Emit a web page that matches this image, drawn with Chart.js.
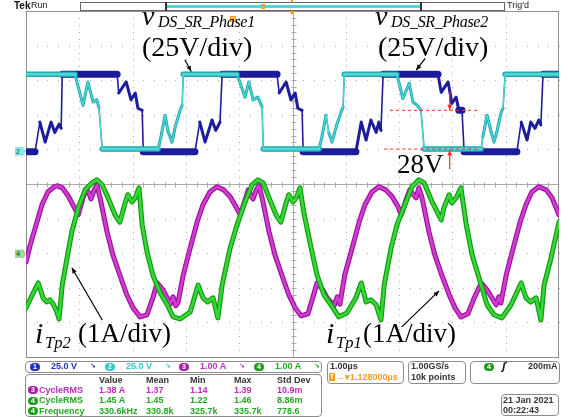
<!DOCTYPE html>
<html>
<head>
<meta charset="utf-8">
<script src="https://cdn.jsdelivr.net/npm/chart.js@4.4.1/dist/chart.umd.min.js"></script>
<style>
  html, body { margin:0; padding:0; background:#fff; }
  #scope { position:relative; width:568px; height:417px; overflow:hidden; background:#fff; }
  #scope canvas { position:absolute; left:0; top:0; }
  .abs { position:absolute; white-space:nowrap; }
  .box { position:absolute; border:1px solid #8c8c8c; border-radius:4px; box-sizing:border-box; }
</style>
</head>
<body>
<div id="scope">
  <canvas id="trace" width="568" height="417"></canvas>
</div>
<script>
/* ── scope settings: 1 µs/div, 10 div across ─────────────────────── */
const V_PER_DIV   = 25;     // ch1, ch2
const A_PER_DIV   = 1;      // ch3, ch4
const CH12_OFFSET = 0.95;   // ground marker, div above centre
const CH34_OFFSET = -2.02;  // ground marker, div below centre

/* ch1: v_DS SR phase 1 (µs, V) */
const ch1T = [0, 0.17, 0.26, 0.36, 0.47, 0.54, 0.62, 0.66, 0.68, 1.71, 1.74, 1.88, 1.97, 2.05, 2.10, 2.18, 2.20,
              3.17, 3.26, 3.36, 3.49, 3.56, 3.64, 3.68, 4.71, 4.75, 4.88, 4.97, 5.05, 5.10, 5.18, 5.20,
              6.19, 6.29, 6.38, 6.47, 6.57, 6.62, 6.66, 6.70, 7.73, 7.79, 7.92, 7.99, 8.07, 8.12, 8.18, 8.22,
              9.21, 9.29, 9.40, 9.47, 9.55, 9.62, 9.66, 9.70, 10];
const ch1V = [-0.5, -0.5, 21, 6.5, 21, 13.5, 19.5, 16.5, 55.5, 55.5, 42, 50, 37, 42, 31, 29.5, -0.5,
              -0.5, 21, 6.5, 22.5, 15, 21, 55.5, 55.5, 42, 50, 37, 42, 31, 29.5, -0.5,
              -0.5, 21, 8, 22.5, 13.5, 21, 15, 55.5, 55.5, 42.5, 50, 34.5, 39, 29.5, 29.5, -0.5,
              -0.5, 21, 8, 21, 16.5, 22.5, 19, 55.5, 55.5];

/* ch2: v_DS SR phase 2 (µs, V) */
const ch2T = [0, 0.92, 1.01, 1.07, 1.16, 1.26, 1.33, 1.37, 1.43, 2.48, 2.53, 2.61, 2.66, 2.74, 2.80, 2.89, 2.93, 2.95,
              3.96, 4.02, 4.11, 4.18, 4.26, 4.35, 4.43, 4.45, 5.50, 5.55, 5.63, 5.68, 5.74, 5.83, 5.91, 5.95, 5.97,
              6.96, 7.02, 7.07, 7.19, 7.26, 7.34, 7.41, 7.47, 8.54, 8.57, 8.65, 8.72, 8.78, 8.84, 8.91, 8.95, 8.99, 10];
const ch2V = [55.5, 55.5, 42, 33, 50, 35.5, 37, 31, 1.5, 1.5, 10, 26, 15, 6.5, 17.5, 29.5, 33, 55.5,
              55.5, 49, 39, 50, 37, 39, 32, 1.5, 1.5, 10, 26, 13.5, 6.5, 19, 28, 32, 55.5,
              55.5, 46, 38, 49, 35.5, 33, 29.5, 1.5, 1.5, 10, 26, 15, 6.5, 15, 27.5, 31, 55.5, 55.5];

/* ch3: i_Tp1 (µs, A) */
const ch3T = [0, 0.08, 0.19, 0.30, 0.41, 0.53, 0.58, 0.68, 0.79, 0.90, 0.98, 1.07, 1.13, 1.18, 1.22, 1.28, 1.33, 1.39,
              1.52, 1.63, 1.76, 1.89, 2.01, 2.14, 2.27, 2.38, 2.46, 2.57, 2.65, 2.70, 2.76, 2.81, 2.85,
              2.95, 3.08, 3.21, 3.32, 3.45, 3.58, 3.71, 3.83, 3.94, 4.02, 4.11, 4.17, 4.22, 4.26, 4.32, 4.37, 4.43,
              4.56, 4.67, 4.80, 4.93, 5.05, 5.16, 5.29, 5.38, 5.46, 5.57, 5.65, 5.72, 5.78, 5.84, 5.89,
              5.98, 6.12, 6.25, 6.36, 6.49, 6.62, 6.75, 6.87, 6.98, 7.04, 7.13, 7.20, 7.26, 7.32, 7.37, 7.43,
              7.56, 7.67, 7.80, 7.94, 8.05, 8.16, 8.29, 8.41, 8.54, 8.65, 8.74, 8.82, 8.87, 8.91,
              9.01, 9.14, 9.27, 9.38, 9.49, 9.62, 9.76, 9.87, 10];
const ch3A = [-0.23, 0.26, 0.84, 1.42, 1.79, 1.94, 1.97, 1.91, 1.68, 1.36, 1.13, 1.62, 1.88, 1.76, 1.59, 1.85, 1.99, 1.62,
              0.64, -0.03, -0.61, -1.18, -1.56, -1.82, -1.76, -1.27, -0.84, -1.04, -1.27, -1.47, -1.24, -1.50, -1.42,
              -0.61, 0.17, 0.92, 1.42, 1.79, 1.94, 1.85, 1.65, 1.36, 1.13, 1.56, 1.85, 1.68, 1.59, 1.85, 1.97, 1.62,
              0.64, -0.03, -0.61, -1.18, -1.56, -1.79, -1.73, -1.27, -0.84, -1.04, -1.27, -1.39, -1.50, -1.24, -1.45,
              -0.61, 0.17, 0.92, 1.42, 1.79, 1.94, 1.85, 1.65, 1.36, 1.13, 1.56, 1.85, 1.73, 1.62, 1.91, 1.62,
              0.64, -0.03, -0.61, -1.18, -1.56, -1.82, -1.73, -1.27, -0.84, -1.04, -1.27, -1.47, -1.24, -1.42,
              -0.61, 0.17, 0.92, 1.42, 1.79, 1.94, 1.85, 1.62, 1.13];

/* ch4: i_Tp2 (µs, A) */
const ch4T = [0, 0.11, 0.23, 0.32, 0.39, 0.45, 0.51, 0.58, 0.62, 0.68, 0.77, 0.86, 0.98, 1.11, 1.24, 1.33, 1.43, 1.54,
              1.67, 1.76, 1.86, 1.91, 1.99, 2.05, 2.12, 2.18, 2.27, 2.38, 2.51, 2.65, 2.76, 2.89, 3.08,
              3.23, 3.32, 3.41, 3.51, 3.60, 3.68, 3.83, 3.96, 4.11, 4.24, 4.35, 4.45, 4.56, 4.69, 4.78, 4.88,
              4.93, 5.01, 5.07, 5.14, 5.22, 5.35, 5.46, 5.59, 5.72, 5.87, 6.02, 6.19, 6.29, 6.38, 6.47, 6.57,
              6.66, 6.72, 6.85, 6.96, 7.13, 7.24, 7.37, 7.47, 7.62, 7.79, 7.84, 7.94, 7.99, 8.07, 8.16, 8.26,
              8.37, 8.54, 8.65, 8.78, 8.93, 9.10, 9.29, 9.38, 9.47, 9.57, 9.66, 9.72, 9.85, 10];
const ch4A = [-1.56, -1.21, -0.84, -1.27, -1.39, -1.33, -1.45, -1.68, -1.88, -0.90, -0.12, 0.64, 1.33, 1.85, 2.05, 2.14, 1.99, 1.62,
              1.13, 0.92, 1.47, 1.71, 1.50, 1.62, 1.91, 0.84, 0.06, -0.61, -1.10, -1.47, -1.82, -1.88, -1.68,
              -0.90, -1.27, -1.39, -1.27, -1.85, -0.90, 0.17, 0.84, 1.50, 1.99, 2.14, 2.05, 1.62, 1.13, 0.92, 1.47,
              1.71, 1.50, 1.62, 1.91, 1.13, 0.17, -0.61, -1.18, -1.47, -1.82, -1.71, -1.27, -0.84, -1.39, -1.33, -1.47,
              -1.91, -0.90, 0.17, 0.84, 1.50, 1.94, 2.14, 2.05, 1.50, 0.98, 1.33, 1.71, 1.47, 1.62, 1.91, 0.84,
              -0.03, -0.90, -1.47, -1.76, -1.85, -1.47, -0.84, -1.27, -1.39, -1.27, -1.91, -0.90, -0.12, 0.92];

/* readouts */
const chanNums   = ['1', '2', '3', '4'];
const chanScales = ['25.0 V', '25.0 V', '1.00 A', '1.00 A'];
const measCols   = ['Value', 'Mean', 'Min', 'Max', 'Std Dev'];
const measCh     = ['3', '4', '4'];
const measNames  = ['CycleRMS', 'CycleRMS', 'Frequency'];
const measRows   = [['1.38 A', '1.37', '1.14', '1.39', '10.9m'],
                    ['1.45 A', '1.45', '1.22', '1.46', '8.86m'],
                    ['330.6kHz', '330.8k', '325.7k', '335.7k', '778.6']];
const plateauV   = 28;   // marked SR plateau step

const COL = {
  blue: '#1c1c9c', cyan: '#4fd6d6', cyanEdge: '#18a3a8',
  mag: '#d13cd1', magEdge: '#9c119c', grn: '#35d835', grnEdge: '#129a12',
  cyanTxt: '#2fc4c8', magTxt: '#c02cc0', grnTxt: '#22a822', blueTxt: '#2233bb'
};
const chipCol = { '1': '#2233cc', '2': '#35c8cc', '3': '#a520a5', '4': '#1f9e1f' };

const pts = (t, v) => t.map((x, i) => ({ x, y: v[i] }));

// thick where the trace sits flat, thin on the fast edges
const vWidth = (flat, ramp, edge) => c => {
  const dx = Math.abs(c.p1.x - c.p0.x), dy = Math.abs(c.p1.y - c.p0.y);
  if (dy < 0.5) return flat;
  return dy > 6 * dx ? edge : ramp;
};

/* graticule: dotted divisions, solid centre cross with minor ticks */
const graticule = {
  id: 'graticule',
  beforeDatasetsDraw(chart) {
    const { ctx, chartArea: a, scales: { x, yDiv } } = chart;
    ctx.save();
    ctx.fillStyle = '#a9a9a9';
    for (let i = 1; i < 10; i++) {
      if (i === 5) continue;
      const px = Math.round(x.getPixelForValue(i));
      for (let k = 0; k <= 50; k++) ctx.fillRect(px, Math.round(yDiv.getPixelForValue(-5 + k * 0.2)), 1, 1);
    }
    for (let j = -4; j <= 4; j++) {
      if (j === 0) continue;
      const py = Math.round(yDiv.getPixelForValue(j));
      for (let k = 0; k <= 50; k++) ctx.fillRect(Math.round(x.getPixelForValue(k * 0.2)), py, 1, 1);
    }
    const cx = Math.round(x.getPixelForValue(5)) + 0.5;
    const cy = Math.round(yDiv.getPixelForValue(0)) + 0.5;
    ctx.strokeStyle = '#a9a9a9';
    ctx.lineWidth = 1;
    ctx.beginPath();
    ctx.moveTo(a.left, cy); ctx.lineTo(a.right, cy);
    ctx.moveTo(cx, a.top); ctx.lineTo(cx, a.bottom);
    for (let k = 1; k < 50; k++) {
      const px = Math.round(x.getPixelForValue(k * 0.2)) + 0.5;
      const py = Math.round(yDiv.getPixelForValue(-5 + k * 0.2)) + 0.5;
      ctx.moveTo(px, cy - 2); ctx.lineTo(px, cy + 3);
      ctx.moveTo(cx - 2, py); ctx.lineTo(cx + 3, py);
    }
    ctx.stroke();
    ctx.strokeStyle = '#8f8f8f';
    ctx.strokeRect(a.left + 0.5, a.top + 0.5, a.right - a.left - 1, a.bottom - a.top);
    ctx.restore();
  }
};

/* arrows and the 28 V marking on top of the traces */
const notes = {
  id: 'notes',
  afterDatasetsDraw(chart) {
    const { ctx, scales: { x, yV, yA } } = chart;
    const arrow = (x0, y0, x1, y1, col) => {
      const ang = Math.atan2(y1 - y0, x1 - x0);
      ctx.strokeStyle = col; ctx.fillStyle = col; ctx.lineWidth = 1.2;
      ctx.beginPath(); ctx.moveTo(x0, y0); ctx.lineTo(x1, y1); ctx.stroke();
      ctx.beginPath();
      ctx.moveTo(x1, y1);
      ctx.lineTo(x1 - 6 * Math.cos(ang - 0.4), y1 - 6 * Math.sin(ang - 0.4));
      ctx.lineTo(x1 - 6 * Math.cos(ang + 0.4), y1 - 6 * Math.sin(ang + 0.4));
      ctx.closePath(); ctx.fill();
    };
    ctx.save();
    // pointers from the labels to their traces
    arrow(x.getPixelForValue(2.98), yV.getPixelForValue(66), x.getPixelForValue(3.10), yV.getPixelForValue(57.5), '#000');
    arrow(x.getPixelForValue(7.49), yV.getPixelForValue(67), x.getPixelForValue(7.32), yV.getPixelForValue(58.5), '#000');
    arrow(x.getPixelForValue(1.43), yA.getPixelForValue(-1.91), x.getPixelForValue(0.86), yA.getPixelForValue(-0.40), '#000');
    arrow(x.getPixelForValue(7.05), yA.getPixelForValue(-2.11), x.getPixelForValue(7.75), yA.getPixelForValue(-1.07), '#000');

    // plateau step: ch2 off-state level and that level + 28 V
    const low = Math.min(...ch2V);
    const yLo = yV.getPixelForValue(low), yHi = yV.getPixelForValue(low + plateauV);
    ctx.strokeStyle = '#ff2424'; ctx.lineWidth = 1; ctx.setLineDash([3, 3]);
    ctx.beginPath();
    ctx.moveTo(x.getPixelForValue(6.83), yHi); ctx.lineTo(x.getPixelForValue(8.50), yHi);
    ctx.moveTo(x.getPixelForValue(6.72), yLo); ctx.lineTo(x.getPixelForValue(8.50), yLo);
    ctx.stroke();
    ctx.setLineDash([]);
    const xa = x.getPixelForValue(7.95);
    arrow(xa, yHi - 18, xa, yHi, '#ff2424');
    arrow(xa, yLo + 20, xa, yLo + 1, '#ff2424');
    ctx.restore();
  }
};

const line = (data, axis, color, width, order) => ({
  data, yAxisID: axis, borderColor: color, borderWidth: width, order,
  pointRadius: 0, tension: 0, fill: false, borderJoinStyle: 'round', borderCapStyle: 'round'
});

const ch1 = pts(ch1T, ch1V), ch2 = pts(ch2T, ch2V), ch3 = pts(ch3T, ch3A), ch4 = pts(ch4T, ch4A);

const chart = new Chart(document.getElementById('trace'), {
  type: 'line',
  data: {
    datasets: [
      line(ch4, 'yA', COL.grn, 2.6, 0),
      line(ch4, 'yA', COL.grnEdge, 5, 1),
      line(ch3, 'yA', COL.mag, 2.6, 2),
      line(ch3, 'yA', COL.magEdge, 5, 3),
      Object.assign(line(ch2, 'yV', COL.cyan, 2, 4), { segment: { borderWidth: vWidth(3, 1.4, 1.1) } }),
      Object.assign(line(ch2, 'yV', COL.cyanEdge, 2, 5), { segment: { borderWidth: vWidth(5.5, 3, 1.6) } }),
      Object.assign(line(ch1, 'yV', COL.blue, 2, 6), { segment: { borderWidth: vWidth(7, 3, 1.6) } })
    ]
  },
  options: {
    responsive: false,
    animation: false,
    devicePixelRatio: 1,
    layout: { padding: { left: 26, top: 11, right: 9, bottom: 60 } },
    plugins: { legend: { display: false }, tooltip: { enabled: false } },
    scales: {
      x:    { type: 'linear', min: 0, max: 10, display: false },
      yV:   { type: 'linear', min: -(5 + CH12_OFFSET) * V_PER_DIV, max: (5 - CH12_OFFSET) * V_PER_DIV, display: false },
      yA:   { type: 'linear', min: -(5 + CH34_OFFSET) * A_PER_DIV, max: (5 - CH34_OFFSET) * A_PER_DIV, display: false },
      yDiv: { type: 'linear', min: -5, max: 5, display: false }
    }
  },
  plugins: [graticule, notes]
});

/* ── text overlays ──────────────────────────────────────────────── */
const wrap = document.getElementById('scope');
function put(text, left, top, style) {
  const d = document.createElement('div');
  d.className = 'abs';
  d.textContent = text;
  d.style.left = left + 'px';
  d.style.top = top + 'px';
  Object.assign(d.style, style || {});
  wrap.appendChild(d);
  return d;
}
// serif labels placed by baseline
function serif(text, left, base, size, italic, extra) {
  return put(text, left, base - 0.8375 * size, Object.assign({
    font: (italic ? 'italic ' : '') + size + 'px "Liberation Serif", serif',
    lineHeight: size + 'px', color: '#000'
  }, extra || {}));
}
// small readout text placed by its centre line
function ui(text, left, cy, color, extra) {
  return put(text, left, cy - 4.4, Object.assign({
    font: 'bold 9px "Liberation Sans", sans-serif', lineHeight: '9px', color: color || '#333'
  }, extra || {}));
}
function chip(n, left, cy) {
  return put(n, left, cy - 4, {
    width: '10px', height: '8px', borderRadius: '4px', background: chipCol[n], color: '#fff',
    font: 'bold 7px "Liberation Sans", sans-serif', lineHeight: '8px', textAlign: 'center'
  });
}
function box(left, top, w, h) {
  const d = document.createElement('div');
  d.className = 'box';
  Object.assign(d.style, { left: left + 'px', top: top + 'px', width: w + 'px', height: h + 'px' });
  wrap.appendChild(d);
}

// header strip
put('Tek', 14, 0, { font: 'bold 10px "Liberation Sans", sans-serif', lineHeight: '11px', color: '#111' });
put('Run', 31, 0, { font: '9px "Liberation Sans", sans-serif', lineHeight: '11px', color: '#222' });
put("Trig'd", 507, 0, { font: '9px "Liberation Sans", sans-serif', lineHeight: '11px', color: '#222' });
put('', 80, 2, { width: '425px', height: '9px', border: '1px solid #666', boxSizing: 'border-box' });
put('', 165, 2, { width: '257px', height: '9px', borderLeft: '2px solid #333', borderRight: '2px solid #333', boxSizing: 'border-box' });
put('', 167, 5, { width: '253px', height: '3px', background: '#4fd6d6' });
put('', 261, 4, { width: '4px', height: '5px', border: '1px solid #ff9a1a', boxSizing: 'border-box' });
put('', 289, 11, { width: '0', height: '0', borderLeft: '3px solid transparent', borderRight: '3px solid transparent', borderTop: '4px solid #ff9a1a' });
put('', 291, 0, { width: '2px', height: '2px', background: '#ff9a1a' });
put('', 230, 16, { width: '6px', height: '6px', border: '1px solid #ff9a1a', background: '#ffc060', boxSizing: 'border-box' });

// ground markers for ch2 and ch4
const markerStyle = (bg, fg) => ({
  width: '11px', height: '9px', background: bg, color: fg, font: 'bold 7px "Liberation Sans", sans-serif',
  lineHeight: '9px', paddingLeft: '1px', boxSizing: 'border-box',
  clipPath: 'polygon(0 0, 75% 0, 100% 50%, 75% 100%, 0 100%)'
});
put('2', 15, chart.scales.yV.getPixelForValue(0) - 4.5, markerStyle('#8fe6e6', '#1f8c90'));
put('4', 15, chart.scales.yA.getPixelForValue(0) - 4.5, markerStyle('#9fd79f', '#1f7f1f'));

// annotations
serif('v', 142, 25, 28, true);
serif('DS_SR_Phase1', 158, 27, 16, true, { letterSpacing: '-0.3px' });
serif('(25V/div)', 142, 56, 28);
serif('v', 375, 25, 28, true);
serif('DS_SR_Phase2', 391, 27, 16, true, { letterSpacing: '-0.3px' });
serif('(25V/div)', 378, 56, 28);
serif('28V', 397, 174, 27);
serif('i', 35, 343, 30, true);
serif('Tp2', 45, 349, 16.5, true);
serif('(1A/div)', 78, 343, 27);
serif('i', 326, 343, 30, true);
serif('Tp1', 336, 349, 16.5, true);
serif('(1A/div)', 363, 343, 27);

// channel strip
box(25, 361, 297, 12);
const chanX = [30, 105, 179, 254];
const chanTxt = [COL.blueTxt, COL.cyanTxt, COL.magTxt, COL.grnTxt];
chanNums.forEach((n, i) => {
  chip(n, chanX[i], 366.5);
  ui(chanScales[i], chanX[i] + 21, 366.5, chanTxt[i]);
  ui('\u2198', chanX[i] + 60, 366.5, chanTxt[i], { font: 'bold 7px "DejaVu Sans", sans-serif' });
});

// measurement table
box(25, 374, 297, 43);
const colX = [99, 146, 190, 234, 277];
measCols.forEach((c, i) => ui(c, colX[i], 380));
const rowY = [390, 400.5, 411];
measRows.forEach((row, r) => {
  const col = measCh[r] === '3' ? COL.magTxt : COL.grnTxt;
  chip(measCh[r], 28, rowY[r]);
  ui(measNames[r], 39, rowY[r], col);
  row.forEach((v, i) => ui(v, colX[i], rowY[r], col));
});

// timebase, sampling, trigger, date
box(327, 361, 77, 23);
ui('1.00\u00b5s', 330, 366.5, '#333');
put('T', 329, 373, { width: '6px', height: '8px', background: '#ff9a1a', color: '#fff', font: 'bold 7px "Liberation Sans", sans-serif', lineHeight: '8px', textAlign: 'center' });
ui('\u2192\u25be1.128000\u00b5s', 336, 377, '#ff9a1a');
box(408, 361, 58, 23);
ui('1.00GS/s', 411, 366.5, '#333');
ui('10k points', 411, 377, '#333');
box(470, 361, 90, 23);
chip('4', 484, 366.5);
ui('\u0283', 502, 366.5, '#222', { font: 'italic bold 10px "DejaVu Sans", sans-serif' });
ui('200mA', 528, 366.5, '#333');
box(501, 394, 58, 22);
ui('21 Jan  2021', 503, 400, '#333');
ui('00:22:43', 503, 410.5, '#333');
</script>
</body>
</html>
